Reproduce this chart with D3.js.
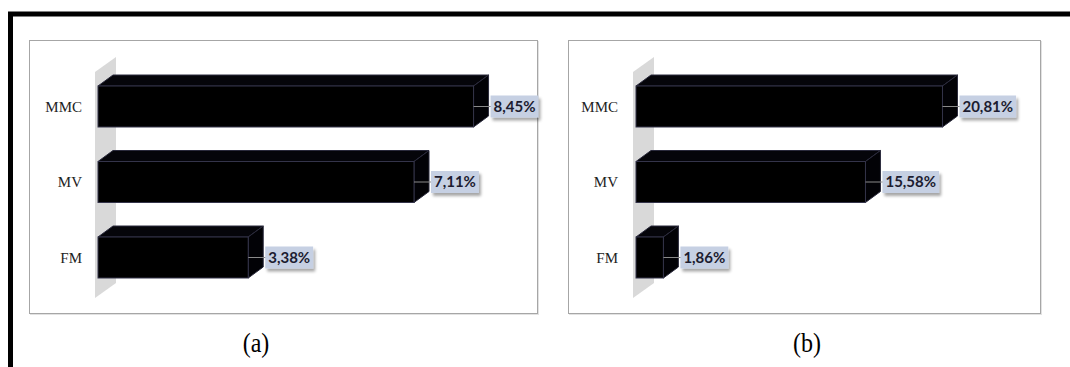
<!DOCTYPE html>
<html>
<head>
<meta charset="utf-8">
<script src="https://cdn.jsdelivr.net/npm/d3@7"></script>
<style>
  html, body { margin: 0; padding: 0; background: #fff; overflow: hidden; }
  svg { display: block; }
</style>
</head>
<body>
<div id="chart"></div>
<script>
// data
const categories = ["MMC", "MV", "FM"];
const valuesA = [8.45, 7.11, 3.38];
const valuesB = [20.81, 15.58, 1.86];
const labelsA = ["8,45%", "7,11%", "3,38%"];
const labelsB = ["20,81%", "15,58%", "1,86%"];
const captions = ["(a)", "(b)"];

const W = 1070, H = 367;
const svg = d3.select("#chart").append("svg")
    .attr("width", W).attr("height", H);

const defs = svg.append("defs");
const shadow = defs.append("filter").attr("id", "shadow")
    .attr("x", "-20%").attr("y", "-20%").attr("width", "150%").attr("height", "160%");
shadow.append("feGaussianBlur").attr("in", "SourceAlpha").attr("stdDeviation", 1.5);
shadow.append("feOffset").attr("dx", 2).attr("dy", 3).attr("result", "off");
shadow.append("feComponentTransfer").append("feFuncA").attr("type", "linear").attr("slope", 0.35);
const merge = shadow.append("feMerge");
merge.append("feMergeNode");
merge.append("feMergeNode").attr("in", "SourceGraphic");

// outer frame, only top and left are inside the picture
svg.append("path")
    .attr("d", `M10.5,${H} L10.5,14 L${W},14`)
    .attr("fill", "none").attr("stroke", "#000").attr("stroke-width", 5);

function drawPanel(p) {
    const g = svg.append("g");
    // panel border with faint shadow
    g.append("rect")
        .attr("x", p.left + 1.5).attr("y", p.top + 1.5)
        .attr("width", p.right - p.left).attr("height", p.bottom - p.top)
        .attr("fill", "none").attr("stroke", "#e2e2e2").attr("stroke-width", 1);
    g.append("rect")
        .attr("x", p.left + 0.5).attr("y", p.top + 0.5)
        .attr("width", p.right - p.left).attr("height", p.bottom - p.top)
        .attr("fill", "#fff").attr("stroke", "#a6a6a6").attr("stroke-width", 1);

    const x = d3.scaleLinear().domain([0, p.max]).range([p.x0, p.x0 + p.len]);
    const y = d3.scalePoint().domain(categories).range([106.5, 257.5]);
    const bh = 41, dx = 15, dy = -11;

    // back wall
    const wx = p.x0 - 3;
    g.append("path")
        .attr("d", `M${wx},72 L${wx + 21},57 L${wx + 21},283 L${wx},298 Z`)
        .attr("fill", "#d9d9d9");

    const rows = categories.map((c, i) => ({ c, v: p.values[i], label: p.labels[i] }));

    const bar = g.selectAll("g.bar").data(rows).enter().append("g").attr("class", "bar");
    // top face
    bar.append("path")
        .attr("d", d => {
            const x1 = p.x0, x2 = x(d.v), yt = y(d.c) - bh / 2;
            return `M${x1},${yt} L${x1 + dx},${yt + dy} L${x2 + dx},${yt + dy} L${x2},${yt} Z`;
        })
        .attr("fill", "#05050a").attr("stroke", "#2a2a3c").attr("stroke-width", 1);
    // side face
    bar.append("path")
        .attr("d", d => {
            const x2 = x(d.v), yt = y(d.c) - bh / 2;
            return `M${x2},${yt} L${x2 + dx},${yt + dy} L${x2 + dx},${yt + dy + bh} L${x2},${yt + bh} Z`;
        })
        .attr("fill", "#020206").attr("stroke", "#2a2a3c").attr("stroke-width", 1);
    // front face
    bar.append("rect")
        .attr("x", p.x0).attr("y", d => y(d.c) - bh / 2)
        .attr("width", d => x(d.v) - p.x0).attr("height", bh)
        .attr("fill", "#000").attr("stroke", "#34344a").attr("stroke-width", 1);

    // leader line + label box
    bar.append("line")
        .attr("x1", d => x(d.v)).attr("x2", d => x(d.v) + 18)
        .attr("y1", d => y(d.c)).attr("y2", d => y(d.c))
        .attr("stroke", "#8a8a8a").attr("stroke-width", 1);

    const lab = bar.append("g")
        .attr("transform", d => `translate(${x(d.v) + 17},${y(d.c)})`);
    lab.append("text")
        .attr("class", "val")
        .attr("x", 3).attr("y", 0).attr("dy", "0.35em")
        .attr("font-family", "Lato, 'Open Sans', sans-serif")
        .attr("font-weight", "bold").attr("font-size", 15)
        .attr("fill", "#1c1c30")
        .text(d => d.label);
    lab.each(function () {
        const t = d3.select(this).select("text");
        const bb = t.node().getBBox();
        d3.select(this).insert("rect", "text")
            .attr("x", 0).attr("y", -11)
            .attr("width", bb.width + 6).attr("height", 22)
            .attr("fill", "#c6d0e3")
            .attr("filter", "url(#shadow)");
    });

    // category labels
    g.selectAll("text.cat").data(categories).enter().append("text")
        .attr("class", "cat")
        .attr("x", p.catX).attr("y", d => y(d)).attr("dy", "0.35em")
        .attr("text-anchor", "end")
        .attr("font-family", "'Liberation Serif', 'Times New Roman', serif")
        .attr("font-size", 15).attr("fill", "#222")
        .text(d => d);

    // caption, slightly stretched vertically like the scan
    svg.append("text")
        .attr("transform", `translate(${p.capX},352) scale(1,1.18)`)
        .attr("text-anchor", "middle")
        .attr("font-family", "'Liberation Serif', 'Times New Roman', serif")
        .attr("font-size", 24).attr("fill", "#000")
        .text(p.caption);
}

drawPanel({ left: 29, right: 537, top: 40, bottom: 313, x0: 98, max: 9, len: 400,
            values: valuesA, labels: labelsA, catX: 82, capX: 256, caption: captions[0] });
drawPanel({ left: 568, right: 1040, top: 40, bottom: 313, x0: 636, max: 22, len: 324,
            values: valuesB, labels: labelsB, catX: 618, capX: 807, caption: captions[1] });
</script>
</body>
</html>
